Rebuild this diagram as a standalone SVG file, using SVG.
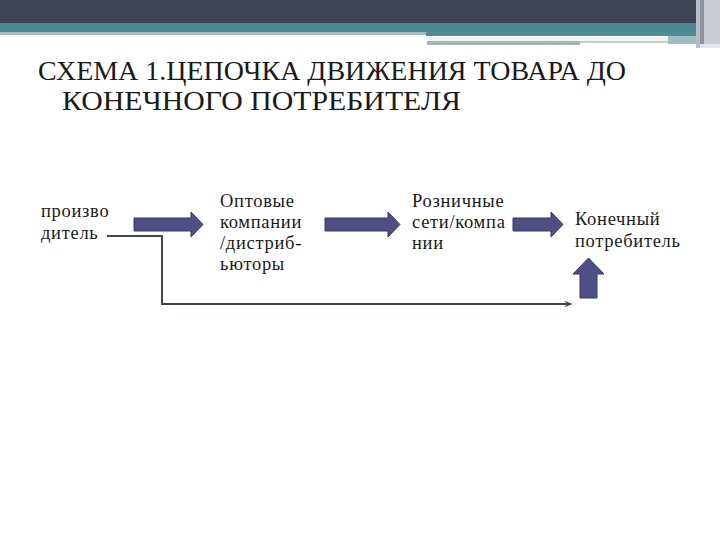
<svg xmlns="http://www.w3.org/2000/svg" width="720" height="540" viewBox="0 0 720 540">
  <defs>
    <style>
      .title { font-family: "Liberation Serif", "DejaVu Serif", "Noto Serif", "Noto Serif CJK SC", "FreeSerif", serif; font-size: 27px; fill: #1a1a1a; }
      .lbl { font-family: "Liberation Serif", "DejaVu Serif", "Noto Serif", "Noto Serif CJK SC", "FreeSerif", serif; font-size: 18.5px; letter-spacing: 0.7px; fill: #1a1a1a; }
      .blk { fill: #4d4f85; stroke: #363862; stroke-width: 1; }
      .conn { fill: none; stroke: #404450; stroke-width: 2; }
    </style>
    <marker id="ah" viewBox="0 0 10 10" refX="10" refY="5" markerWidth="9" markerHeight="6" markerUnits="userSpaceOnUse" orient="auto">
      <path d="M0,1 L10,5 L0,9" fill="none" stroke="#404450" stroke-width="1.8"/>
    </marker>
  </defs>
  <rect width="720" height="540" fill="#ffffff"/>
  <g id="header">
    <rect x="0" y="0" width="720" height="24" fill="#404354"/>
    <rect x="0" y="23" width="700" height="10" fill="#4a8990"/>
    <rect x="0" y="32" width="426" height="3" fill="#a8bcc0"/>
    <rect x="426" y="32" width="274" height="4" fill="#4f8d94"/>
    <rect x="428" y="37" width="240" height="4" fill="#eef3f3"/>
    <rect x="427" y="41" width="153" height="4" fill="#a6b5b6"/>
    <rect x="580" y="41" width="88" height="2" fill="#c3cfcf"/>
    <rect x="668" y="36" width="30" height="8" fill="#9fbcc0"/>
    <rect x="696" y="0" width="4" height="48" fill="#b8bcc6"/>
    <rect x="700" y="0" width="4" height="48" fill="#8e94a2"/>
    <rect x="704" y="0" width="16" height="48" fill="#c9ccd4"/>
    <rect x="700" y="44" width="20" height="4" fill="#e3e8ea"/>
  </g>
  <g id="title">
    <text class="title" x="38" y="80" textLength="588" lengthAdjust="spacingAndGlyphs">СХЕМА 1.ЦЕПОЧКА ДВИЖЕНИЯ ТОВАРА ДО</text>
    <text class="title" x="62" y="110" textLength="399" lengthAdjust="spacingAndGlyphs">КОНЕЧНОГО ПОТРЕБИТЕЛЯ</text>
  </g>
  <g id="producer">
    <text class="lbl" x="41" y="217">произво</text>
    <text class="lbl" x="41" y="239">дитель</text>
  </g>
  <g id="wholesale">
    <text class="lbl" x="220" y="207">Оптовые</text>
    <text class="lbl" x="220" y="228">компании</text>
    <text class="lbl" x="220" y="249">/дистриб-</text>
    <text class="lbl" x="220" y="270">ьюторы</text>
  </g>
  <g id="retail">
    <text class="lbl" x="412" y="207">Розничные</text>
    <text class="lbl" x="412" y="228">сети/компа</text>
    <text class="lbl" x="412" y="249">нии</text>
  </g>
  <g id="consumer">
    <text class="lbl" x="575" y="225">Конечный</text>
    <text class="lbl" x="575" y="247">потребитель</text>
  </g>
  <g id="connectors">
    <path class="blk" d="M134,218 H191 V212 L203,224.5 L191,237 V231 H134 Z"/>
    <path class="blk" d="M325,218 H388 V212 L400,224.5 L388,237 V231 H325 Z"/>
    <path class="blk" d="M513,218 H551 V212 L563,224.5 L551,237 V231 H513 Z"/>
    <path class="blk" d="M580,298 V274 H573 L588.5,258 L604,274 H597 V298 Z"/>
    <path class="conn" d="M107,236 H162 V304 H571" marker-end="url(#ah)"/>
  </g>
</svg>
